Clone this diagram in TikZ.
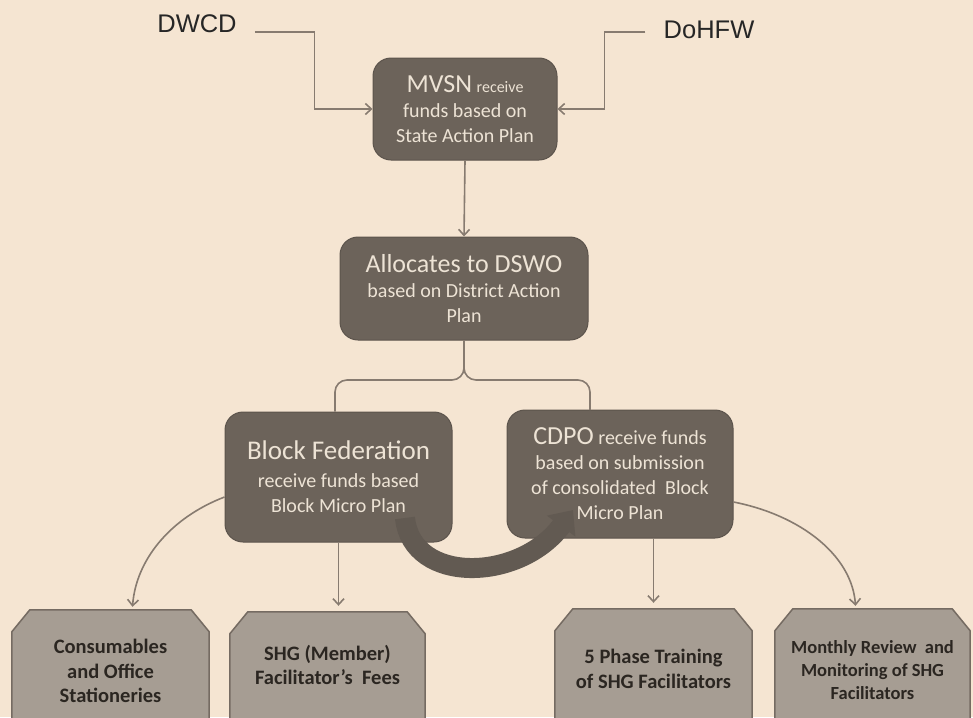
\documentclass[tikz,border=0pt]{standalone}
\usepackage{fontspec}
\setmainfont{Carlito}
\newfontfamily\arialf{Liberation Sans}
\usetikzlibrary{arrows.meta}
\definecolor{bg}{HTML}{F5E5D2}
\definecolor{boxc}{HTML}{6C635A}
\definecolor{boxt}{HTML}{EDE3D5}
\definecolor{lowc}{HTML}{A69D93}
\definecolor{lowd}{HTML}{756B62}
\definecolor{lowt}{HTML}{2B2621}
\definecolor{linec}{HTML}{877B70}
\definecolor{bandc}{HTML}{625A52}
\begin{document}
\begin{tikzpicture}[x=1pt,y=-1pt,
  topbox/.style={fill=boxc, draw=boxc!85!black, line width=1pt, rounded corners=18pt,
    text=boxt, align=center, inner sep=0pt, font=\fontsize{20}{25}\selectfont},
  lowbox/.style={inner sep=0pt, minimum height=130pt},
  lowline/.style={fill=lowc, draw=lowd, line width=1.5pt, line join=miter},
  lowtext/.style={text=lowt, align=center, inner sep=0pt, font=\bfseries\fontsize{20.5}{24.5}\selectfont},
  conn/.style={draw=linec, line width=1.6pt},
  arr/.style={conn, -{Straight Barb[length=6pt,width=11pt,line width=1.6pt]}},
  lbl/.style={text=black!85, font=\arialf\fontsize{25.5}{25.5}\selectfont, inner sep=0pt}
]
\useasboundingbox[fill=bg] (0,0) rectangle (973,717);

% top labels
\node[lbl, anchor=base] (dwcd) at (197,33) {DWCD};
\node[lbl, anchor=base] (dohfw) at (709,38) {DoHFW};

% dark boxes
\node[topbox, minimum width=184pt, minimum height=102pt] (mvsn) at (465,109)
  {{\fontsize{26}{26}\selectfont MVSN} {\fontsize{16}{16}\selectfont receive}\\funds based on\\State Action Plan};
\node[topbox, minimum width=248pt, minimum height=103pt] (dswo) at (464,288.5)
  {{\fontsize{26}{26}\selectfont Allocates to DSWO}\\based on District Action\\Plan};
\node[topbox, minimum width=227pt, minimum height=130pt] (block) at (338.5,477)
  {{\fontsize{27}{27}\selectfont Block Federation}\\[3pt]receive funds based\\Block Micro Plan};
\node[topbox, minimum width=226pt, minimum height=128pt] (cdpo) at (620,474)
  {{\fontsize{26}{26}\selectfont CDPO} receive funds\\based on submission\\of consolidated\ \ Block\\Micro Plan};

% lower boxes
\node[lowbox, minimum width=197pt] (b1) at (110.5,675) {};
\node[lowbox, minimum width=195pt] (b2) at (327.5,677) {};
\node[lowbox, minimum width=197pt] (b3) at (653.5,674) {};
\node[lowbox, minimum width=195pt] (b4) at (872.5,674) {};
\foreach \n in {b1,b2,b3,b4}{
  \draw[lowline] (\n.south west) -- ([yshift=-22pt]\n.north west) -- ([xshift=18pt]\n.north west)
    -- ([xshift=-18pt]\n.north east) -- ([yshift=-22pt]\n.north east) -- (\n.south east) -- cycle;
}
\node[lowtext] (t1) at (110.5,671) {Consumables\\and Office\\Stationeries};
\node[lowtext] (t2) at (327.5,665) {SHG (Member)\\Facilitator's\ \ Fees};
\node[lowtext] (t3) at (653.5,669) {5 Phase Training\\of SHG Facilitators};
\node[lowtext, font=\bfseries\fontsize{18.5}{23}\selectfont] (t4) at (872.5,670) {Monthly Review\ \ and\\Monitoring of SHG\\Facilitators};

% connectors at top
\draw[arr] ([xshift=18pt,yshift=1pt]dwcd.base east) -| ([xshift=-58pt]mvsn.west) -- (mvsn.west);
\draw[arr] ([xshift=-18pt,yshift=6pt]dohfw.base west) -| ([xshift=47pt]mvsn.east) -- (mvsn.east);
\draw[arr] (mvsn.south) -- (dswo.north);

% brace
\coordinate (bj) at (464,380);
\coordinate (br) at (590,410);
\draw[conn, rounded corners=12pt] (block.north -| 335,0) |- (bj) -- (dswo.south);
\draw[conn, rounded corners=12pt] (br) |- (bj) -- (dswo.south);

% down connectors
\draw[arr, shorten >=6pt] (block.south) -- (block.south |- b2.north);
\draw[arr, shorten >=6pt] (b3.north |- cdpo.south) -- (b3.north);
\draw[arr] ([yshift=-20pt]block.west) .. controls (170,518) and (136,560) .. ([xshift=22pt,yshift=3pt]b1.north);
\draw[arr] ([yshift=-28pt]cdpo.east) .. controls (800,515) and (852,555) .. ([xshift=-17pt,yshift=3pt]b4.north);

% thick curved arrow
\coordinate (bandS) at (405,518);
\coordinate (bandE) at (573,510);
\draw[draw=bandc, line width=20pt, -{Triangle[length=20pt,width=34pt]}]
  (bandS) .. controls (412,585) and (520,582) .. (bandE);
\end{tikzpicture}
\end{document}
